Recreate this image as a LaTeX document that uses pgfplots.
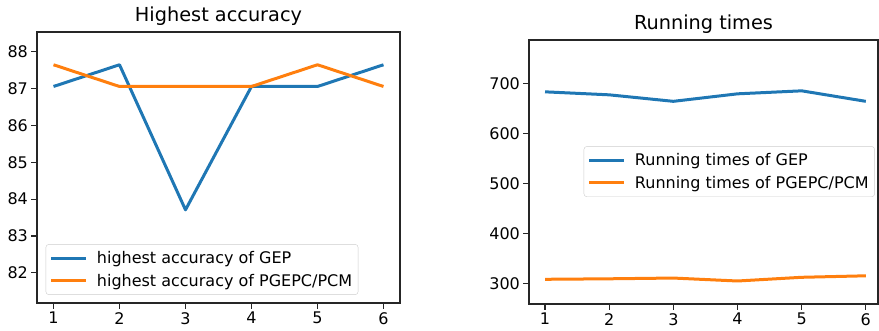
\documentclass[border=0pt]{standalone}
\usepackage{pgfplots}
\pgfplotsset{compat=1.18}
\usepackage{fontspec}
\setmainfont{DejaVu Sans}
\definecolor{mblue}{HTML}{1F77B4}
\definecolor{morange}{HTML}{FF7F0E}
\pgfplotsset{
  mpl/.style={
    scale only axis,
    axis line style={black!85, line width=1.1pt},
    every tick/.style={black!85, line width=1.1pt},
    major tick length=5.6pt,
    tick align=outside,
    xtick pos=bottom, ytick pos=left,
    /pgf/number format/assume math mode=true,
    tick label style={font=\fontsize{16}{19}\selectfont},
    xtick={1,2,3,4,5,6},
    xmin=0.75,
    title style={font=\fontsize{19.3}{22}\selectfont, yshift=-3pt},
    legend style={draw=black!20, rounded corners=3pt, fill=white,
      font=\fontsize{16}{19}\selectfont, inner xsep=4pt, inner ysep=5pt,
      row sep=5pt, cells={anchor=west},
      /tikz/every odd column/.append style={column sep=7pt}},
  },
  lgimg/.style={legend image code/.code={\draw[##1, line width=3pt] (0pt,0pt) -- (35pt,0pt);}},
}
\begin{document}
\begin{tikzpicture}
\path[use as bounding box] (0,0) rectangle (879pt,331pt);
\begin{axis}[mpl,
  at={(37pt,28pt)}, anchor=south west,
  width=363pt, height=271pt,
  xmax=6.25, ymin=81.18, ymax=88.54,
  ytick={82,83,84,85,86,87,88},
  title={Highest accuracy},
  legend style={at={(0.024,0.03)}, anchor=south west},
]
\addplot[mblue, line width=3pt, line join=round, lgimg] coordinates {(1,87.06) (2,87.65) (3,83.71) (4,87.06) (5,87.06) (6,87.65)};
\addlegendentry{highest accuracy of GEP}
\addplot[morange, line width=3pt, line join=round, lgimg] coordinates {(1,87.65) (2,87.06) (3,87.06) (4,87.06) (5,87.65) (6,87.06)};
\addlegendentry{highest accuracy of PGEPC/PCM}
\end{axis}
\begin{axis}[mpl,
  at={(529pt,27pt)}, anchor=south west,
  width=349pt, height=264pt,
  xmax=6.19, ymin=258.6, ymax=786.7,
  ytick={300,400,500,600,700},
  title={Running times},
  legend style={at={(0.991,0.5015)}, anchor=east},
]
\addplot[mblue, line width=3pt, line join=round, lgimg] coordinates {(1,683) (2,677) (3,664) (4,679) (5,685) (6,664)};
\addlegendentry{Running times of GEP}
\addplot[morange, line width=3pt, line join=round, lgimg] coordinates {(1,308) (2,309) (3,310.5) (4,304.6) (5,312) (6,315)};
\addlegendentry{Running times of PGEPC/PCM}
\end{axis}
\end{tikzpicture}
\end{document}
